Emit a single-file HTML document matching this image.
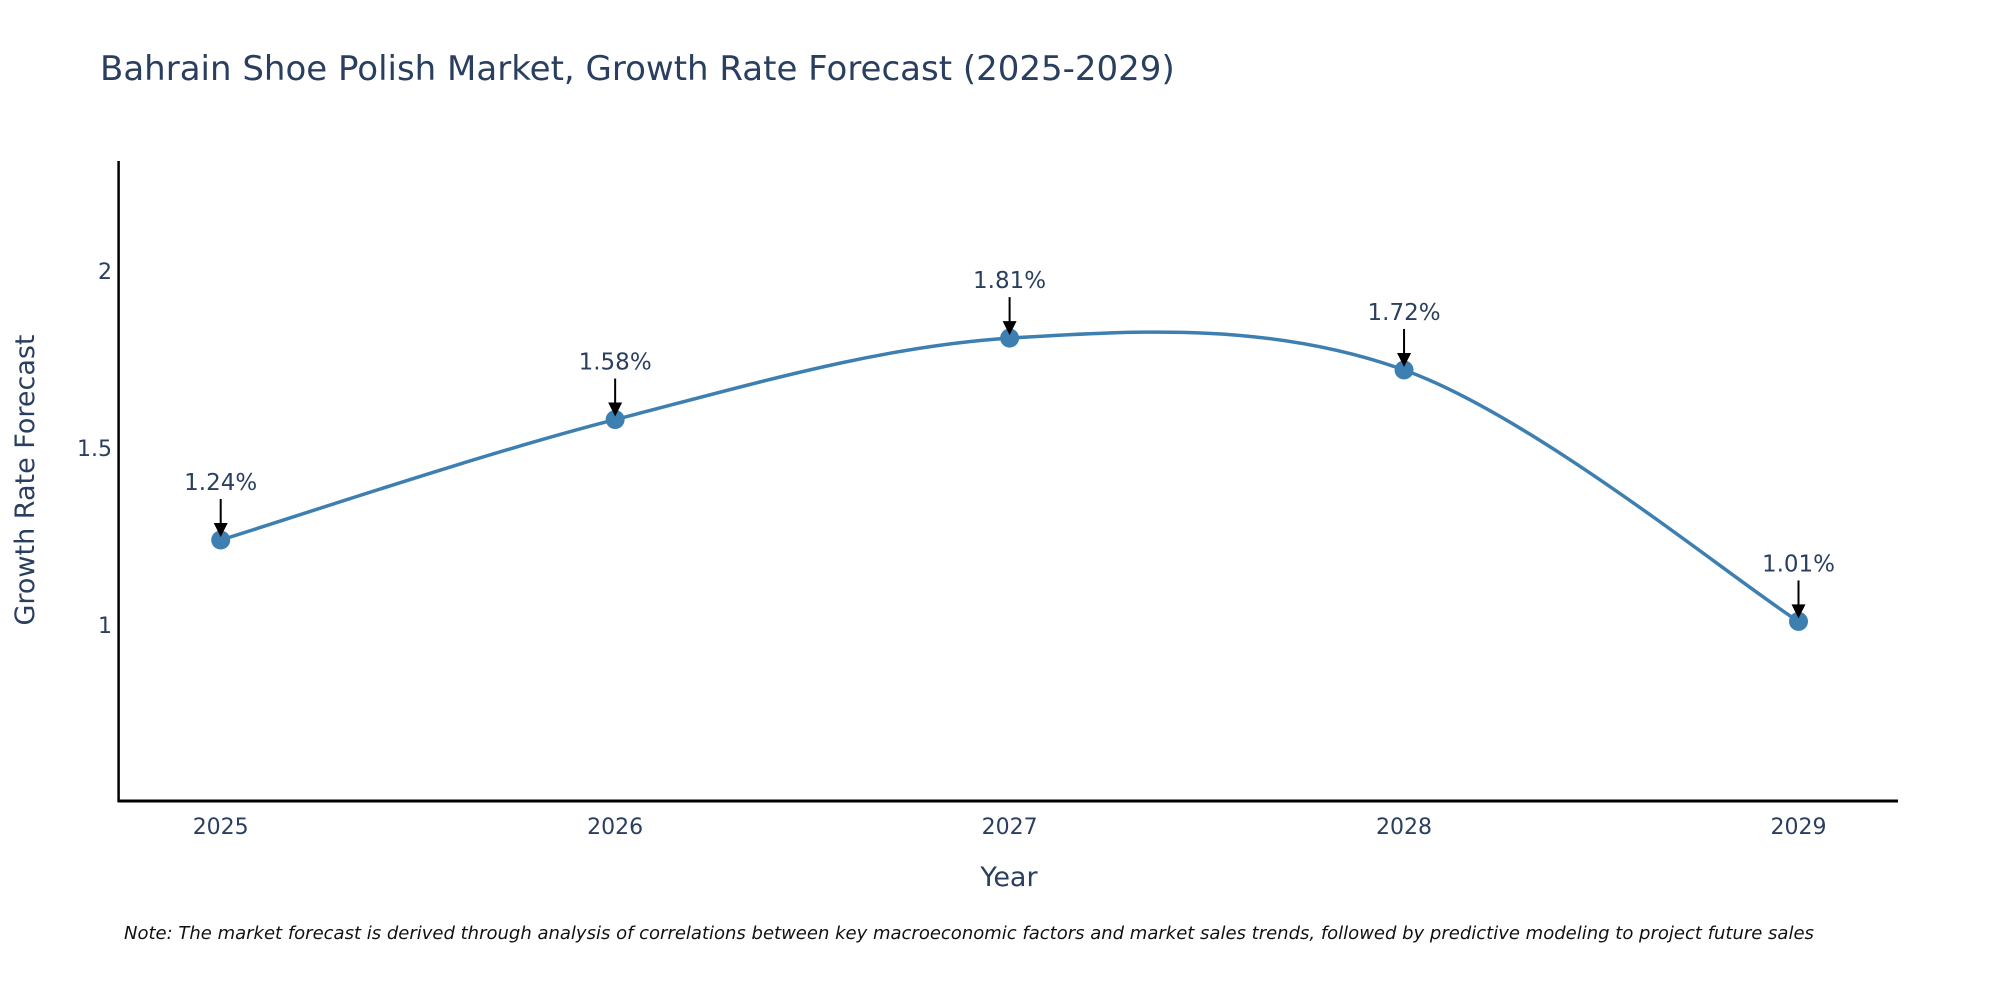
<!DOCTYPE html>
<html><head><meta charset="utf-8"><style>
body{margin:0;background:#fff;}
svg text{font-family:"DejaVu Sans","Liberation Sans",sans-serif;fill:#2a3f5f;}
</style></head><body>
<svg width="2000" height="1000" viewBox="0 0 2000 1000" xmlns="http://www.w3.org/2000/svg">
<text x="100" y="80" font-size="34">Bahrain Shoe Polish Market, Growth Rate Forecast (2025-2029)</text>
<g id="plot"></g>
<text x="1009" y="886" font-size="27" text-anchor="middle">Year</text>
<text transform="translate(34,480) rotate(-90)" font-size="27" text-anchor="middle">Growth Rate Forecast</text>
<text x="124" y="939" font-size="18" font-style="italic" style="fill:#111">Note: The market forecast is derived through analysis of correlations between key macroeconomic factors and market sales trends, followed by predictive modeling to project future sales</text>
</svg>
<script>
const years=["2025","2026","2027","2028","2029"];
const values=[1.24,1.58,1.81,1.72,1.01];
const labels=["1.24%","1.58%","1.81%","1.72%","1.01%"];
const yTicks=[1,1.5,2];
const NS="http://www.w3.org/2000/svg";
const g=document.getElementById('plot');
const X0=118.6,X1=1898,Y0=801,Y1=161,yMin=0.503,yMax=2.31;
const xs=i=>220.7+i*394.45;
const ys=v=>Y0-(v-yMin)/(yMax-yMin)*(Y0-Y1);
function mk(t,a){const e=document.createElementNS(NS,t);for(const k in a)e.setAttribute(k,a[k]);g.appendChild(e);return e;}
let e;
e=mk('line',{x1:X0,y1:Y1,x2:X0,y2:Y0+1,stroke:'#000','stroke-width':2.5});


e=mk('line',{x1:X0-1,y1:Y0,x2:X1,y2:Y0,stroke:'#000','stroke-width':3});


yTicks.forEach(v=>{const t=mk('text',{x:112,y:ys(v)+8,'font-size':22,'text-anchor':'end'});t.textContent=String(v);

});
years.forEach((y,i)=>{const t=mk('text',{x:xs(i),y:834,'font-size':22,'text-anchor':'middle'});t.textContent=y;

});
const P=values.map((v,i)=>[xs(i),ys(v)]);
let d=`M${P[0][0]},${P[0][1]}`;const s=1/6;
for(let i=0;i<P.length-1;i++){const p0=P[Math.max(i-1,0)],p1=P[i],p2=P[i+1],p3=P[Math.min(i+2,P.length-1)];
d+=` C${p1[0]+(p2[0]-p0[0])*s},${p1[1]+(p2[1]-p0[1])*s} ${p2[0]-(p3[0]-p1[0])*s},${p2[1]-(p3[1]-p1[1])*s} ${p2[0]},${p2[1]}`;}
e=mk('path',{d:d,fill:'none',stroke:'#3d7fb1','stroke-width':3.5});


values.forEach((v,i)=>{const x=xs(i),y=ys(v);
const c=mk('circle',{cx:x,cy:y,r:9.5,fill:'#3d7fb1'});


const l=mk('line',{x1:x,y1:y-41,x2:x,y2:y-14,stroke:'#000','stroke-width':2});


const a=mk('polygon',{points:`${x-7},${y-17} ${x+7},${y-17} ${x},${y-3}`,fill:'#000'});


const t=mk('text',{x:x,y:y-50,'font-size':23,'text-anchor':'middle'});t.textContent=labels[i];

});
</script>
</body></html>
